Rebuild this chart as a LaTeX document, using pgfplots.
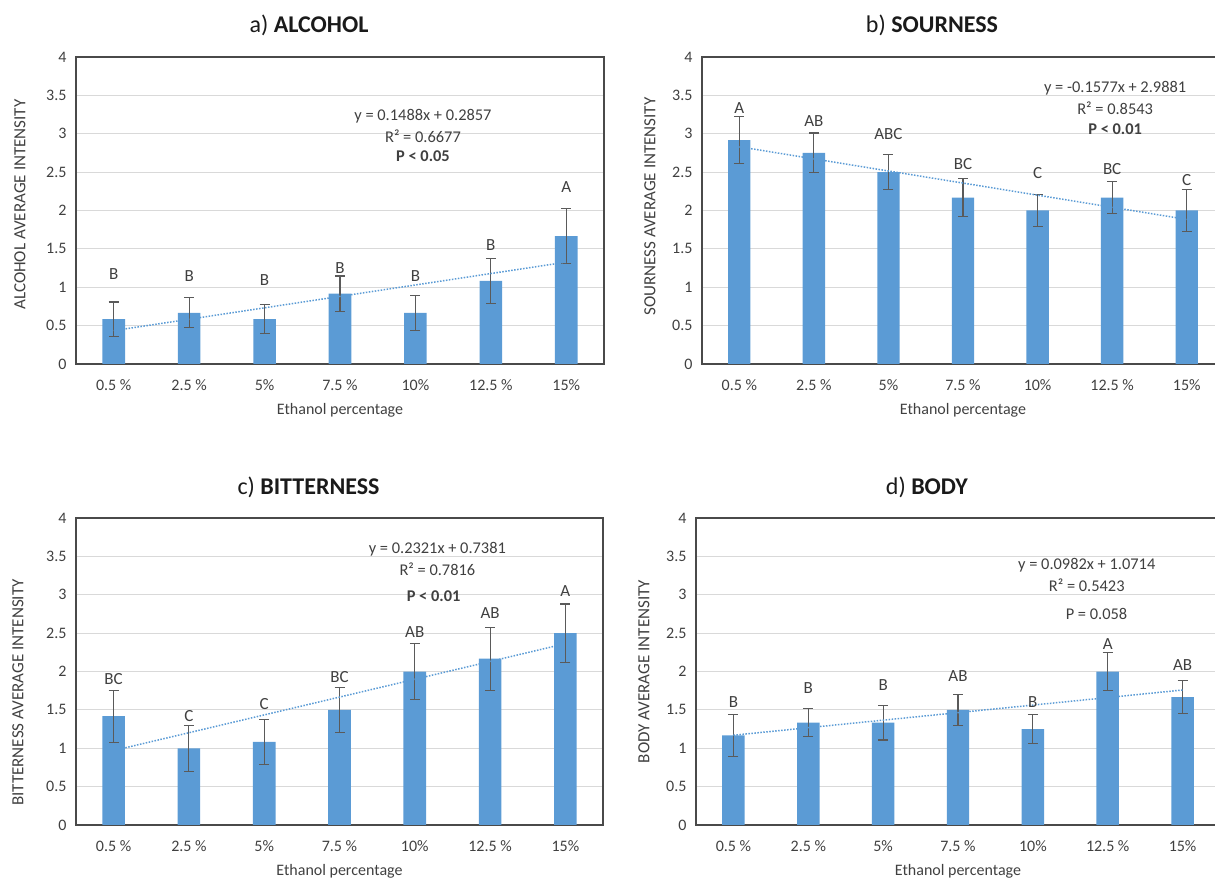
\documentclass[border=0pt]{standalone}
\usepackage{fontspec}
\setmainfont{Carlito}
\usepackage{pgfplots}
\pgfplotsset{compat=1.18}
\definecolor{barblue}{HTML}{5B9BD5}
\definecolor{gridgray}{HTML}{D9D9D9}
\definecolor{framegray}{HTML}{4A4A4A}
\definecolor{txtgray}{HTML}{404040}
\definecolor{errgray}{HTML}{5A5A5A}
\definecolor{titlecol}{HTML}{1A1A1A}
\newcommand{\fs}[1]{\fontsize{#1}{#1}\selectfont}
\pgfplotsset{
 panel/.style={
  scale only axis, height=307pt,
  xmin=-0.5, xmax=6.5, ymin=0, ymax=4,
  xtick={0,1,2,3,4,5,6},
  xticklabels={0.5 \%,2.5 \%,5\%,7.5 \%,10\%,12.5 \%,15\%},
  ytick={0,0.5,1,1.5,2,2.5,3,3.5,4},
  ymajorgrids, grid style={draw=gridgray, line width=1.2pt},
  axis line style={draw=framegray, line width=1.3pt},
  major tick length=0pt,
  tick label style={font=\fs{16}, text=txtgray},
  xticklabel style={yshift=-12pt},
  yticklabel style={xshift=-6pt},
  /pgf/number format/assume math mode=true,
  xlabel={Ethanol percentage},
  xlabel style={font=\fs{16}, text=txtgray, at={(axis description cs:0.5,0)}, anchor=center, yshift=-46pt},
  ylabel style={font=\fs{17}, text=txtgray, at={(axis description cs:0,0.5)}, anchor=center},
  title style={font=\fs{24}, text=titlecol, at={(axis description cs:0.5,1)}, anchor=center, yshift=26pt, xshift=-31pt},
  clip=false,
 },
 bars/.style={ybar, bar width=0.3, fill=barblue, draw=none,
   error bars/.cd, y dir=both, y explicit,
   error bar style={line width=1.1pt, draw=errgray},
   error mark options={rotate=90, mark size=5pt, line width=1.1pt, draw=errgray}},
 trend/.style={draw=barblue, line width=1.5pt, dash pattern=on 1.5pt off 1.5pt, mark=none},
 letters/.style={draw=none, mark=none, nodes near coords, point meta=explicit symbolic,
   every node near coord/.append style={anchor=center, font=\fs{17}, text=txtgray}},
}
\tikzset{eq/.style={font=\fs{16.4}, text=txtgray, anchor=center}}
\begin{document}
\begin{tikzpicture}[x=1pt,y=1pt]
% ---------------- a) ALCOHOL
\begin{axis}[panel, at={(76pt,514pt)}, anchor=south west, width=528pt,
  title={a) \textbf{ALCOHOL}}, ylabel={ALCOHOL AVERAGE INTENSITY},
  ylabel style={xshift=6pt, yshift=56pt}]
\addplot[bars] table[x=x, y=y, y error=e] {
x y e
0 0.583 0.225
1 0.667 0.195
2 0.583 0.19
3 0.917 0.23
4 0.667 0.225
5 1.083 0.29
6 1.667 0.36
};
\addplot[trend] coordinates {(0,0.4345) (6,1.3273)};
\addplot[letters] table[x=x, y=y, meta=l] {
x y l
0 1.17 B
1 1.14 B
2 1.09 B
3 1.25 B
4 1.15 B
5 1.55 B
6 2.30 A
};
\node[eq] at (axis cs:4.1,3.226) {y = 0.1488x + 0.2857};
\node[eq] at (axis cs:4.1,2.97) {R² = 0.6677};
\node[eq] at (axis cs:4.1,2.71) {\textbf{P < 0.05}};
\end{axis}
% ---------------- b) SOURNESS
\begin{axis}[panel, at={(702pt,514pt)}, anchor=south west, width=522pt,
  title={b) \textbf{SOURNESS}}, ylabel={SOURNESS AVERAGE INTENSITY},
  ylabel style={xshift=4pt, yshift=52pt}]
\addplot[bars] table[x=x, y=y, y error=e] {
x y e
0 2.917 0.31
1 2.75 0.26
2 2.5 0.23
3 2.167 0.245
4 2.0 0.21
5 2.167 0.21
6 2.0 0.275
};
\addplot[trend] coordinates {(0,2.8304) (6,1.8842)};
\addplot[letters] table[x=x, y=y, meta=l] {
x y l
0 3.34 A
1 3.17 AB
2 2.99 ABC
3 2.60 BC
4 2.49 C
5 2.54 BC
6 2.40 C
};
\node[eq] at (axis cs:5.04,3.59) {y = -0.1577x + 2.9881};
\node[eq] at (axis cs:5.04,3.33) {R² = 0.8543};
\node[eq] at (axis cs:5.04,3.06) {\textbf{P < 0.01}};
\end{axis}
% ---------------- c) BITTERNESS
\begin{axis}[panel, at={(76pt,53pt)}, anchor=south west, width=527pt,
  title={c) \textbf{BITTERNESS}}, ylabel={BITTERNESS AVERAGE INTENSITY},
  title style={yshift=-1pt}, ylabel style={xshift=-21pt, yshift=58pt}]
\addplot[bars] table[x=x, y=y, y error=e] {
x y e
0 1.417 0.34
1 1.0 0.30
2 1.083 0.295
3 1.5 0.295
4 2.0 0.37
5 2.167 0.41
6 2.5 0.38
};
\addplot[trend] coordinates {(0,0.9702) (6,2.3628)};
\addplot[letters] table[x=x, y=y, meta=l] {
x y l
0 1.90 BC
1 1.42 C
2 1.57 C
3 1.93 BC
4 2.52 AB
5 2.76 AB
6 3.05 A
};
\node[eq] at (axis cs:4.3,3.59) {y = 0.2321x + 0.7381};
\node[eq] at (axis cs:4.3,3.33) {R² = 0.7816};
\node[eq] at (axis cs:4.25,2.98) {\textbf{P < 0.01}};
\end{axis}
% ---------------- d) BODY
\begin{axis}[panel, at={(696pt,53pt)}, anchor=south west, width=524pt,
  title={d) \textbf{BODY}}, ylabel={BODY AVERAGE INTENSITY},
  ylabel style={xshift=0pt, yshift=52pt}, title style={yshift=-1pt}]
\addplot[bars] table[x=x, y=y, y error=e] {
x y e
0 1.167 0.27
1 1.333 0.185
2 1.333 0.225
3 1.5 0.2
4 1.25 0.185
5 2.0 0.245
6 1.667 0.22
};
\addplot[trend] coordinates {(0,1.1696) (6,1.7588)};
\addplot[letters] table[x=x, y=y, meta=l] {
x y l
0 1.60 B
1 1.78 B
2 1.83 B
3 1.94 AB
4 1.60 B
5 2.36 A
6 2.08 AB
};
\node[eq] at (axis cs:4.72,3.38) {y = 0.0982x + 1.0714};
\node[eq] at (axis cs:4.72,3.13) {R² = 0.5423};
\node[eq] at (axis cs:4.85,2.75) {P = 0.058};
\end{axis}
\pgfresetboundingbox
\path[use as bounding box] (0,0) rectangle (1215,878);
\end{tikzpicture}
\end{document}
